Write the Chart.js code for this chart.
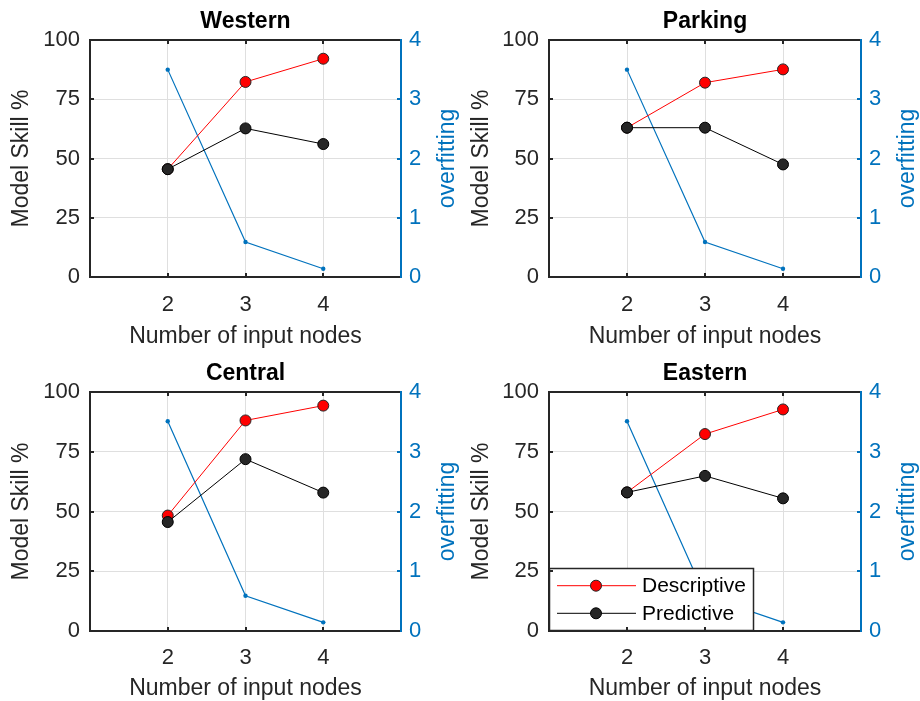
<!DOCTYPE html>
<html>
<head>
<meta charset="utf-8">
<script src="https://cdn.jsdelivr.net/npm/chart.js@4.4.0/dist/chart.umd.min.js"></script>
<style>
  body { margin: 0; background: #fff; }
  #wrap { position: relative; width: 920px; height: 701px; background: #fff; }
  .panel { position: absolute; width: 460px; height: 350px; }
  .panel canvas { display: block; }
</style>
</head>
<body>
<div id="wrap">
  <div class="panel" style="left:0;top:0"><canvas id="c0" width="460" height="350"></canvas></div>
  <div class="panel" style="left:460px;top:0"><canvas id="c1" width="460" height="350"></canvas></div>
  <div class="panel" style="left:0;top:350px"><canvas id="c2" width="460" height="350"></canvas></div>
  <div class="panel" style="left:460px;top:350px"><canvas id="c3" width="460" height="350"></canvas></div>
</div>
<script>
// data
const nodes = [2, 3, 4];
const xTicks = [2, 3, 4];
const skillTicks = [0, 25, 50, 75, 100];
const overfitTicks = [0, 1, 2, 3, 4];

const westernDescriptive = [45.5, 82.3, 92.1];
const westernPredictive = [45.5, 62.7, 56.1];
const westernOverfitting = [3.5, 0.59, 0.14];

const parkingDescriptive = [63.0, 82.0, 87.6];
const parkingPredictive = [63.0, 63.0, 47.5];
const parkingOverfitting = [3.5, 0.59, 0.14];

const centralDescriptive = [48.3, 88.1, 94.3];
const centralPredictive = [45.6, 71.9, 57.9];
const centralOverfitting = [3.51, 0.59, 0.145];

const easternDescriptive = [58.0, 82.4, 92.7];
const easternPredictive = [58.0, 64.9, 55.5];
const easternOverfitting = [3.51, 0.59, 0.145];

const panels = [
  { name: 'Western', desc: westernDescriptive, pred: westernPredictive, over: westernOverfitting },
  { name: 'Parking', desc: parkingDescriptive, pred: parkingPredictive, over: parkingOverfitting },
  { name: 'Central', desc: centralDescriptive, pred: centralPredictive, over: centralOverfitting },
  { name: 'Eastern', desc: easternDescriptive, pred: easternPredictive, over: easternOverfitting, legend: true }
];

// layout per panel (canvas pixels)
const layouts = [
  { top: 40, yw: 90, xh: 73, titleY: 22, tickPad: 15, xTitlePad: 1.5 },
  { top: 40, yw: 89, xh: 73, titleY: 22, tickPad: 15, xTitlePad: 1.5 },
  { top: 42, yw: 90, xh: 69, titleY: 24, tickPad: 14, xTitlePad: 0 },
  { top: 42, yw: 89, xh: 69, titleY: 24, tickPad: 14, xTitlePad: 0 }
];

const FONT = '"Liberation Sans", Arial, Helvetica, sans-serif';
const textColor = '#262626';
const blue = '#0072BD';
const gridColor = '#dfdfdf';
Chart.defaults.font.family = FONT;

const toPoints = (ys) => nodes.map((x, k) => ({ x: x, y: ys[k] }));

// panel title, right-hand axis label and the small inward tick marks
const panelText = {
  id: 'panelText',
  afterDraw(chart, args, opts) {
    const { ctx, chartArea, scales } = chart;
    const a = chartArea;
    ctx.save();
    ctx.lineWidth = 2;
    ctx.strokeStyle = textColor;
    ctx.beginPath();
    xTicks.forEach(v => {
      const px = Math.round(scales.x.getPixelForValue(v));
      ctx.moveTo(px, a.top); ctx.lineTo(px, a.top + 4);
      ctx.moveTo(px, a.bottom); ctx.lineTo(px, a.bottom - 4);
    });
    skillTicks.slice(1, -1).forEach(v => {
      const py = Math.round(scales.y.getPixelForValue(v));
      ctx.moveTo(a.left, py); ctx.lineTo(a.left + 4, py);
    });
    ctx.stroke();
    ctx.strokeStyle = blue;
    ctx.beginPath();
    overfitTicks.slice(1, -1).forEach(v => {
      const py = Math.round(scales.y2.getPixelForValue(v));
      ctx.moveTo(a.right, py); ctx.lineTo(a.right - 4, py);
    });
    ctx.stroke();

    ctx.textAlign = 'center';
    ctx.textBaseline = 'middle';
    ctx.fillStyle = '#000';
    ctx.font = 'bold 23px ' + FONT;
    ctx.fillText(opts.title, (a.left + a.right) / 2, opts.titleY);
    ctx.translate(448, (a.top + a.bottom) / 2);
    ctx.rotate(-Math.PI / 2);
    ctx.fillStyle = blue;
    ctx.font = '23px ' + FONT;
    ctx.fillText('overfitting', 0, 0);
    ctx.restore();
  }
};

// boxed legend in the lower-left corner of the plot area
const boxLegend = {
  id: 'boxLegend',
  afterDatasetsDraw(chart, args, opts) {
    if (!opts.show) return;
    const { ctx, chartArea } = chart;
    const x0 = chartArea.left, y0 = chartArea.bottom - 63, w = 205, h = 63;
    ctx.save();
    ctx.fillStyle = '#fff';
    ctx.fillRect(x0, y0, w, h);
    ctx.strokeStyle = '#262626';
    ctx.lineWidth = 1.5;
    ctx.strokeRect(x0 + 0.5, y0 + 0.5, w - 1, h - 1);
    const rows = [
      chart.data.datasets.find(d => d.label === 'Descriptive'),
      chart.data.datasets.find(d => d.label === 'Predictive')
    ];
    const rowY = [17.7, 45.3];
    rows.forEach((ds, i) => {
      const y = y0 + rowY[i];
      ctx.strokeStyle = ds.borderColor;
      ctx.lineWidth = 1;
      ctx.beginPath();
      ctx.moveTo(x0 + 8, y);
      ctx.lineTo(x0 + 87, y);
      ctx.stroke();
      ctx.beginPath();
      ctx.arc(x0 + 47, y, 5.5, 0, Math.PI * 2);
      ctx.fillStyle = ds.pointBackgroundColor;
      ctx.fill();
      ctx.strokeStyle = ds.pointBorderColor;
      ctx.stroke();
      ctx.fillStyle = '#000';
      ctx.font = '21px ' + FONT;
      ctx.textAlign = 'left';
      ctx.textBaseline = 'middle';
      ctx.fillText(ds.label, x0 + 93, y + 1);
    });
    ctx.restore();
  }
};

function makePanel(i) {
  const p = panels[i];
  const L = layouts[i];
  const ctx = document.getElementById('c' + i);

  new Chart(ctx, {
    type: 'line',
    data: {
      datasets: [{
        label: 'Predictive',
        data: toPoints(p.pred),
        yAxisID: 'y',
        borderColor: '#000000',
        borderWidth: 1,
        pointRadius: 5.5,
        pointBackgroundColor: '#262626',
        pointBorderColor: '#000000',
        pointBorderWidth: 1,
        order: 0
      }, {
        label: 'Descriptive',
        data: toPoints(p.desc),
        yAxisID: 'y',
        borderColor: '#ff0000',
        borderWidth: 1,
        pointRadius: 5.5,
        pointBackgroundColor: '#ff0000',
        pointBorderColor: '#262626',
        pointBorderWidth: 1,
        order: 1
      }, {
        label: 'overfitting',
        data: toPoints(p.over),
        yAxisID: 'y2',
        borderColor: blue,
        borderWidth: 1.2,
        pointRadius: 2.2,
        pointBackgroundColor: blue,
        pointBorderColor: blue,
        pointBorderWidth: 0,
        order: 2
      }]
    },
    options: {
      responsive: false,
      animation: false,
      layout: { padding: { top: L.top, left: 0, right: 0, bottom: 0 } },
      plugins: {
        legend: { display: false },
        tooltip: { enabled: false },
        panelText: { title: p.name, titleY: L.titleY },
        boxLegend: { show: !!p.legend }
      },
      scales: {
        x: {
          type: 'linear',
          position: 'bottom',
          min: 1,
          max: 5,
          afterBuildTicks: (s) => { s.ticks = xTicks.map(v => ({ value: v })); },
          afterFit: (s) => { s.height = L.xh; },
          grid: { color: gridColor, drawTicks: false },
          border: { color: textColor, width: 2 },
          ticks: { color: textColor, font: { size: 22 }, padding: L.tickPad },
          title: {
            display: true,
            text: 'Number of input nodes',
            color: textColor,
            font: { size: 23, lineHeight: 1 },
            padding: { top: 0, bottom: L.xTitlePad }
          }
        },
        xTop: {
          type: 'linear',
          position: 'top',
          min: 1,
          max: 5,
          afterFit: (s) => { s.height = 0; },
          grid: { display: false, drawTicks: false },
          border: { color: textColor, width: 2 },
          ticks: { display: false }
        },
        y: {
          position: 'left',
          min: 0,
          max: 100,
          afterBuildTicks: (s) => { s.ticks = skillTicks.map(v => ({ value: v })); },
          afterFit: (s) => { s.width = L.yw; },
          grid: { color: gridColor, drawTicks: false },
          border: { color: textColor, width: 2 },
          ticks: { color: textColor, font: { size: 22 }, padding: 10 },
          title: {
            display: true,
            text: 'Model Skill %',
            color: textColor,
            font: { size: 23, lineHeight: 1 },
            padding: { top: 10, bottom: 0 }
          }
        },
        y2: {
          position: 'right',
          min: 0,
          max: 4,
          afterBuildTicks: (s) => { s.ticks = overfitTicks.map(v => ({ value: v })); },
          afterFit: (s) => { s.width = 59; },
          grid: { display: false, drawTicks: false },
          border: { color: blue, width: 2 },
          ticks: { color: blue, font: { size: 22 }, padding: 8 }
        }
      }
    },
    plugins: [panelText, boxLegend]
  });
}

panels.forEach((p, i) => makePanel(i));
</script>
</body>
</html>
